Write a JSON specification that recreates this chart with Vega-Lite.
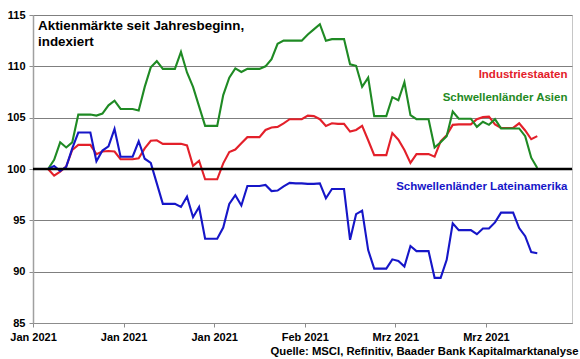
{
  "$schema": "https://vega.github.io/schema/vega-lite/v6.json",
  "width": 539,
  "height": 308,
  "autosize": "none",
  "padding": {"left": 33, "top": 15, "right": 8, "bottom": 36},
  "background": "white",
  "config": {
    "font": "Liberation Sans",
    "view": {"stroke": "#c6c6c6", "strokeWidth": 1}
  },
  "datasets": {
    "series": [
      {"d": "2021-01-03", "ind": 100, "asien": 100, "latam": 100},
      {"d": "2021-01-04", "ind": 99.35, "asien": 100.9, "latam": 100.3},
      {"d": "2021-01-05", "ind": 99.75, "asien": 102.6, "latam": 99.8},
      {"d": "2021-01-06", "ind": 100.25, "asien": 102.1, "latam": 100.2},
      {"d": "2021-01-07", "ind": 101.85, "asien": 102.6, "latam": 102.0},
      {"d": "2021-01-08", "ind": 102.35, "asien": 105.3, "latam": 103.55},
      {"d": "2021-01-09", "ind": 102.35, "asien": 105.3, "latam": 103.55},
      {"d": "2021-01-10", "ind": 102.35, "asien": 105.3, "latam": 103.55},
      {"d": "2021-01-11", "ind": 101.45, "asien": 105.2, "latam": 100.75},
      {"d": "2021-01-12", "ind": 101.7, "asien": 105.4, "latam": 101.8},
      {"d": "2021-01-13", "ind": 101.75, "asien": 106.2, "latam": 102.2},
      {"d": "2021-01-14", "ind": 101.7, "asien": 106.65, "latam": 103.9},
      {"d": "2021-01-15", "ind": 100.95, "asien": 105.85, "latam": 101.2},
      {"d": "2021-01-16", "ind": 100.95, "asien": 105.85, "latam": 101.2},
      {"d": "2021-01-17", "ind": 100.95, "asien": 105.85, "latam": 101.2},
      {"d": "2021-01-18", "ind": 101.05, "asien": 105.7, "latam": 102.7},
      {"d": "2021-01-19", "ind": 102.0, "asien": 108.0, "latam": 101.0},
      {"d": "2021-01-20", "ind": 102.75, "asien": 109.9, "latam": 100.6},
      {"d": "2021-01-21", "ind": 102.8, "asien": 110.5, "latam": 98.6},
      {"d": "2021-01-22", "ind": 102.45, "asien": 109.75, "latam": 96.6},
      {"d": "2021-01-23", "ind": 102.45, "asien": 109.75, "latam": 96.6},
      {"d": "2021-01-24", "ind": 102.45, "asien": 109.75, "latam": 96.6},
      {"d": "2021-01-25", "ind": 102.45, "asien": 111.4, "latam": 96.3},
      {"d": "2021-01-26", "ind": 102.3, "asien": 109.4, "latam": 97.3},
      {"d": "2021-01-27", "ind": 100.3, "asien": 108.0, "latam": 95.3},
      {"d": "2021-01-28", "ind": 100.8, "asien": 106.1, "latam": 96.3},
      {"d": "2021-01-29", "ind": 99.0, "asien": 104.2, "latam": 93.2},
      {"d": "2021-01-30", "ind": 99.0, "asien": 104.2, "latam": 93.2},
      {"d": "2021-01-31", "ind": 99.0, "asien": 104.2, "latam": 93.2},
      {"d": "2021-02-01", "ind": 100.55, "asien": 107.2, "latam": 94.3},
      {"d": "2021-02-02", "ind": 101.65, "asien": 108.9, "latam": 96.6},
      {"d": "2021-02-03", "ind": 101.9, "asien": 109.8, "latam": 97.45},
      {"d": "2021-02-04", "ind": 102.5, "asien": 109.45, "latam": 96.45},
      {"d": "2021-02-05", "ind": 103.1, "asien": 109.75, "latam": 98.35},
      {"d": "2021-02-06", "ind": 103.1, "asien": 109.75, "latam": 98.35},
      {"d": "2021-02-07", "ind": 103.1, "asien": 109.75, "latam": 98.35},
      {"d": "2021-02-08", "ind": 103.8, "asien": 110.0, "latam": 98.45},
      {"d": "2021-02-09", "ind": 104.05, "asien": 110.7, "latam": 97.85},
      {"d": "2021-02-10", "ind": 104.1, "asien": 112.2, "latam": 97.9},
      {"d": "2021-02-11", "ind": 104.45, "asien": 112.5, "latam": 98.3},
      {"d": "2021-02-12", "ind": 104.85, "asien": 112.5, "latam": 98.65},
      {"d": "2021-02-13", "ind": 104.85, "asien": 112.5, "latam": 98.6},
      {"d": "2021-02-14", "ind": 104.85, "asien": 112.5, "latam": 98.6},
      {"d": "2021-02-15", "ind": 105.2, "asien": 113.1, "latam": 98.55},
      {"d": "2021-02-16", "ind": 105.15, "asien": 113.6, "latam": 98.55},
      {"d": "2021-02-17", "ind": 104.85, "asien": 114.1, "latam": 98.6},
      {"d": "2021-02-18", "ind": 104.2, "asien": 112.5, "latam": 97.15},
      {"d": "2021-02-19", "ind": 104.45, "asien": 112.65, "latam": 98.05},
      {"d": "2021-02-20", "ind": 104.4, "asien": 112.65, "latam": 98.05},
      {"d": "2021-02-21", "ind": 104.4, "asien": 112.65, "latam": 98.05},
      {"d": "2021-02-22", "ind": 103.65, "asien": 110.2, "latam": 93.1},
      {"d": "2021-02-23", "ind": 103.8, "asien": 110.05, "latam": 95.6},
      {"d": "2021-02-24", "ind": 104.2, "asien": 108.0, "latam": 95.95},
      {"d": "2021-02-25", "ind": 102.8, "asien": 108.9, "latam": 92.1},
      {"d": "2021-02-26", "ind": 101.35, "asien": 105.15, "latam": 90.3},
      {"d": "2021-02-27", "ind": 101.35, "asien": 105.15, "latam": 90.3},
      {"d": "2021-02-28", "ind": 101.35, "asien": 105.15, "latam": 90.3},
      {"d": "2021-03-01", "ind": 103.5, "asien": 107.0, "latam": 91.2},
      {"d": "2021-03-02", "ind": 102.85, "asien": 106.7, "latam": 91.05},
      {"d": "2021-03-03", "ind": 101.85, "asien": 108.45, "latam": 90.5},
      {"d": "2021-03-04", "ind": 100.6, "asien": 105.25, "latam": 92.5},
      {"d": "2021-03-05", "ind": 101.45, "asien": 104.85, "latam": 92.0},
      {"d": "2021-03-06", "ind": 101.45, "asien": 104.85, "latam": 92.0},
      {"d": "2021-03-07", "ind": 101.45, "asien": 104.85, "latam": 92.0},
      {"d": "2021-03-08", "ind": 101.2, "asien": 102.1, "latam": 89.4},
      {"d": "2021-03-09", "ind": 102.7, "asien": 102.6, "latam": 89.4},
      {"d": "2021-03-10", "ind": 103.3, "asien": 103.2, "latam": 91.15},
      {"d": "2021-03-11", "ind": 104.3, "asien": 105.6, "latam": 94.7},
      {"d": "2021-03-12", "ind": 104.35, "asien": 104.9, "latam": 94.05},
      {"d": "2021-03-13", "ind": 104.35, "asien": 104.9, "latam": 94.05},
      {"d": "2021-03-14", "ind": 104.35, "asien": 104.9, "latam": 94.05},
      {"d": "2021-03-15", "ind": 104.85, "asien": 104.1, "latam": 93.65},
      {"d": "2021-03-16", "ind": 105.05, "asien": 104.6, "latam": 94.2},
      {"d": "2021-03-17", "ind": 105.1, "asien": 104.3, "latam": 94.2},
      {"d": "2021-03-18", "ind": 104.35, "asien": 104.85, "latam": 94.8},
      {"d": "2021-03-19", "ind": 104.0, "asien": 103.95, "latam": 95.75},
      {"d": "2021-03-20", "ind": 104.0, "asien": 103.95, "latam": 95.75},
      {"d": "2021-03-21", "ind": 104.0, "asien": 103.95, "latam": 95.75},
      {"d": "2021-03-22", "ind": 104.45, "asien": 103.95, "latam": 94.25},
      {"d": "2021-03-23", "ind": 103.75, "asien": 103.2, "latam": 93.45},
      {"d": "2021-03-24", "ind": 102.9, "asien": 101.1, "latam": 91.9},
      {"d": "2021-03-25", "ind": 103.2, "asien": 100.1, "latam": 91.8}
    ],
    "labels": [
      {"d": "2021-03-30", "value": 109.15, "key": "ind", "label": "Industriestaaten"},
      {"d": "2021-03-30", "value": 106.92, "key": "asien", "label": "Schwellenländer Asien"},
      {"d": "2021-03-30", "value": 98.2, "key": "latam", "label": "Schwellenländer Lateinamerika"}
    ],
    "heading": [
      {"d": "2021-01-01", "value": 113.54, "label": ["Aktienmärkte seit Jahresbeginn,", "indexiert"]}
    ],
    "ref": [{"value": 100}]
  },
  "layer": [
    {
      "data": {"name": "series"},
      "transform": [{"fold": ["ind", "asien", "latam"], "as": ["key", "value"]}],
      "mark": {"type": "line", "strokeWidth": 2.1, "interpolate": "linear"},
      "encoding": {
        "x": {
          "field": "d",
          "type": "temporal",
          "scale": {
            "type": "utc",
            "domain": [
              {"year": 2020, "month": 12, "date": 31, "hours": 12, "utc": true},
              {"year": 2021, "month": 3, "date": 30, "hours": 18, "utc": true}
            ],
            "nice": false
          },
          "axis": {
            "values": [
              {"year": 2020, "month": 12, "date": 31, "hours": 12, "utc": true},
              {"year": 2021, "month": 1, "date": 15, "hours": 12, "utc": true},
              {"year": 2021, "month": 1, "date": 30, "hours": 12, "utc": true},
              {"year": 2021, "month": 2, "date": 14, "hours": 12, "utc": true},
              {"year": 2021, "month": 3, "date": 1, "hours": 12, "utc": true},
              {"year": 2021, "month": 3, "date": 16, "hours": 12, "utc": true}
            ],
            "labelExpr": "replace(utcFormat(datum.value + 43200000, '%b %Y'), 'Mar', 'Mrz')",
            "grid": false,
            "domainColor": "#8c8c8c",
            "domainWidth": 1,
            "tickColor": "#8c8c8c",
            "tickSize": 4,
            "labelPadding": 4,
            "labelFont": "Liberation Sans",
            "labelFontSize": 11,
            "labelFontWeight": "bold",
            "labelColor": "#000000",
            "labelFlush": false,
            "labelOverlap": false,
            "title": "Quelle: MSCI, Refinitiv, Baader Bank Kapitalmarktanalyse",
            "titleFont": "Liberation Sans",
            "titleFontSize": 11.3,
            "titleFontWeight": "bold",
            "titleColor": "#000000",
            "titleX": 545,
            "titleY": 31,
            "titleAlign": "right",
            "titleBaseline": "alphabetic",
            "titleAnchor": "end"
          }
        },
        "y": {
          "field": "value",
          "type": "quantitative",
          "scale": {"domain": [85, 115], "nice": false, "zero": false},
          "axis": {
            "values": [85, 90, 95, 100, 105, 110, 115],
            "grid": true,
            "gridColor": "#7f7f7f",
            "gridWidth": 1,
            "domainColor": "#a0a0a0",
            "domainWidth": 1.5,
            "tickColor": "#8c8c8c",
            "tickSize": 4,
            "labelPadding": 4,
            "labelFont": "Liberation Sans",
            "labelFontSize": 11,
            "labelFontWeight": "bold",
            "labelColor": "#000000",
            "title": null
          }
        },
        "color": {
          "field": "key",
          "type": "nominal",
          "scale": {"domain": ["ind", "asien", "latam"], "range": ["#e3202a", "#1f8a24", "#1616c8"]},
          "legend": null
        }
      }
    },
    {
      "data": {"name": "ref"},
      "mark": {"type": "rule", "color": "#000000", "strokeWidth": 2.5},
      "encoding": {
        "y": {"field": "value", "type": "quantitative"}
      }
    },
    {
      "data": {"name": "labels"},
      "mark": {"type": "text", "align": "right", "baseline": "middle", "font": "Liberation Sans", "fontSize": 11.5, "fontWeight": "bold"},
      "encoding": {
        "x": {"field": "d", "type": "temporal"},
        "y": {"field": "value", "type": "quantitative"},
        "text": {"field": "label"},
        "color": {"field": "key", "type": "nominal", "legend": null}
      }
    },
    {
      "data": {"name": "heading"},
      "mark": {"type": "text", "align": "left", "baseline": "alphabetic", "dx": 2, "font": "Liberation Sans", "fontSize": 13.4, "fontWeight": "bold", "lineHeight": 16.5, "color": "#000000"},
      "encoding": {
        "x": {"field": "d", "type": "temporal"},
        "y": {"field": "value", "type": "quantitative"},
        "text": {"field": "label"}
      }
    }
  ]
}
